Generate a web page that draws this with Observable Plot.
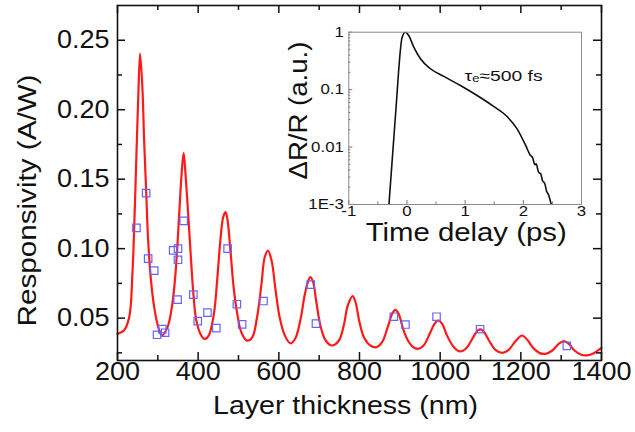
<!DOCTYPE html>
<html>
<head>
<meta charset="utf-8">
<script src="https://cdn.jsdelivr.net/npm/d3@7"></script>
<script src="https://cdn.jsdelivr.net/npm/@observablehq/plot@0.6"></script>
<style>
  html, body { margin: 0; padding: 0; background: #fff; }
  #wrap { position: relative; width: 635px; height: 432px; font-family: "Liberation Sans", Arial, sans-serif; }
</style>
</head>
<body>
<div id="wrap"></div>
<script>
// ---- Main chart: fitted responsivity curve (red line) ----
const curveThickness = [
  200, 216, 229, 237, 243, 248, 252, 256, 262, 266,
  271, 276, 283, 291, 299, 310, 324, 336, 345, 353,
  359, 364, 369, 375, 381, 388, 395, 405, 416, 426,
  439, 447, 455, 462, 468, 473, 480, 488, 497, 507,
  521, 534, 546, 557, 565, 573, 582, 592, 602, 615,
  629, 641, 654, 664, 672, 678, 685, 693, 703, 716,
  732, 749, 761, 771, 783, 790, 800, 811, 827, 842,
  856, 870, 881, 889, 897, 908, 920, 933, 945, 959,
  974, 986, 995, 1005, 1017, 1034, 1050, 1067, 1082, 1093,
  1100, 1108, 1121, 1137, 1154, 1170, 1187, 1203, 1216, 1231,
  1247, 1261, 1278, 1294, 1307, 1319, 1333, 1350, 1364, 1381,
  1400
];
const curveResponsivity = [
  0.0387, 0.0411, 0.0507, 0.0819, 0.1299, 0.178, 0.214, 0.2404, 0.214, 0.178,
  0.142, 0.106, 0.0771, 0.0579, 0.0459, 0.0375, 0.0435, 0.0603, 0.0867, 0.1251,
  0.154, 0.1688, 0.152, 0.126, 0.098, 0.068, 0.049, 0.039, 0.035, 0.0374,
  0.053, 0.077, 0.1058, 0.1226, 0.1263, 0.1203, 0.0986, 0.0722, 0.053, 0.0398,
  0.0338, 0.0362, 0.0506, 0.0746, 0.0938, 0.0986, 0.0914, 0.07, 0.0506, 0.0374,
  0.0318, 0.0355, 0.0495, 0.0664, 0.076, 0.0796, 0.076, 0.0616, 0.0447, 0.0339,
  0.0303, 0.0339, 0.0447, 0.0592, 0.0659, 0.0616, 0.0471, 0.0363, 0.0303, 0.0291,
  0.0327, 0.0435, 0.0531, 0.056, 0.0531, 0.0423, 0.0339, 0.0291, 0.0279, 0.0303,
  0.0387, 0.0459, 0.0483, 0.0459, 0.0375, 0.0291, 0.026, 0.0291, 0.0363, 0.0411,
  0.0419, 0.0404, 0.0339, 0.0272, 0.025, 0.0272, 0.0335, 0.0375, 0.0344, 0.0284,
  0.0248, 0.0243, 0.0267, 0.0315, 0.0335, 0.0315, 0.0267, 0.0236, 0.0232, 0.0248,
  0.0285
];

// ---- Main chart: measured points (blue squares) ----
const measThickness = [247, 271, 276, 291, 298, 311, 318, 338, 350, 350,
  349, 364, 388, 399, 423, 445, 473, 496, 509, 562,
  679, 692, 885, 914, 991, 1099, 1314];
const measResponsivity = [0.115, 0.140, 0.0928, 0.0842, 0.038, 0.0421, 0.0395, 0.0988, 0.100, 0.092,
  0.0633, 0.120, 0.0669, 0.0478, 0.054, 0.0428, 0.100, 0.060, 0.0455, 0.0623,
  0.0741, 0.046, 0.051, 0.0454, 0.051, 0.042, 0.030];

// ---- Main chart ticks ----
const xMajorTicks = [200, 400, 600, 800, 1000, 1200, 1400];
const xMinorTicks = [300, 500, 700, 900, 1100, 1300];
const yMajorTicks = [0.05, 0.10, 0.15, 0.20, 0.25];
const yMinorTicks = [0.025, 0.075, 0.125, 0.175, 0.225];
const yTickLabels = ["0.05", "0.10", "0.15", "0.20", "0.25"];

// ---- Inset: pump-probe transient ----
const insetTime = [-0.31, -0.2, -0.083, -0.026, 0.03, 0.117, 0.232, 0.404, 0.632, 0.919,
  1.206, 1.49, 1.72, 1.89, 2.04, 2.12, 2.16, 2.2, 2.22, 2.26,
  2.3, 2.33, 2.37, 2.4, 2.43, 2.45, 2.47, 2.5];
const insetSignal = [0.001, 0.033, 0.82, 1, 0.875, 0.55, 0.344, 0.231, 0.17, 0.118,
  0.079, 0.051, 0.034, 0.021, 0.0107, 0.0072, 0.0065, 0.0049, 0.0051, 0.0037,
  0.0034, 0.0026, 0.0023, 0.0017, 0.0015, 0.0013, 0.0011, 0.0009];
const insetXTicks = [-1, 0, 1, 2, 3];
const insetXMinor = [-0.5, 0.5, 1.5, 2.5];
const insetYTicks = [0.001, 0.01, 0.1, 1];
const insetYLabels = ["1E-3", "0.01", "0.1", "1"];
const insetYMinor = [0.002, 0.003, 0.004, 0.005, 0.006, 0.007, 0.008, 0.009,
  0.02, 0.03, 0.04, 0.05, 0.06, 0.07, 0.08, 0.09,
  0.2, 0.3, 0.4, 0.5, 0.6, 0.7, 0.8, 0.9];
const insetNote = [{t: 0.99, v: 0.17, text: "τₑ≈500 fs"}];

const FONT = "Liberation Sans, Arial, sans-serif";

const curveData = curveThickness.map((t, i) => ({t, r: curveResponsivity[i]}));
const measData = measThickness.map((t, i) => ({t, r: measResponsivity[i]}));
const insetData = insetTime.map((t, i) => ({t, v: insetSignal[i]}));

const W = 635, H = 432, ML = 117, MR = 34, MT = 5, MB = 72;
const innerW = W - ML - MR, innerH = H - MT - MB;

const main = Plot.plot({
  width: W, height: H,
  marginLeft: ML, marginRight: MR, marginTop: MT, marginBottom: MB,
  x: {domain: [200, 1400], axis: null},
  y: {domain: [0.0195, 0.275], axis: null},
  style: {fontFamily: FONT, background: "white", overflow: "visible"},
  marks: [
    Plot.line(curveData, {x: "t", y: "r", stroke: "#ff1a1a", strokeWidth: 2.2, curve: "catmull-rom"}),
    Plot.dot(measData, {x: "t", y: "r", symbol: "square", r: 4.2, stroke: "#6464ff", strokeWidth: 1.2, fill: "none"}),
    // inward ticks
    Plot.tickX(xMajorTicks, {x: d => d, insetTop: innerH - 8, stroke: "#111", strokeWidth: 1.5}),
    Plot.tickX(xMinorTicks, {x: d => d, insetTop: innerH - 5, stroke: "#111", strokeWidth: 1.5}),
    Plot.tickX(xMajorTicks, {x: d => d, insetBottom: innerH - 8, stroke: "#111", strokeWidth: 1.5}),
    Plot.tickX(xMinorTicks, {x: d => d, insetBottom: innerH - 5, stroke: "#111", strokeWidth: 1.5}),
    Plot.tickY(yMajorTicks, {y: d => d, insetRight: innerW - 8, stroke: "#111", strokeWidth: 1.5}),
    Plot.tickY(yMinorTicks, {y: d => d, insetRight: innerW - 5, stroke: "#111", strokeWidth: 1.5}),
    Plot.tickY(yMajorTicks, {y: d => d, insetLeft: innerW - 8, stroke: "#111", strokeWidth: 1.5}),
    Plot.tickY(yMinorTicks, {y: d => d, insetLeft: innerW - 5, stroke: "#111", strokeWidth: 1.5}),
    Plot.frame({stroke: "#111", strokeWidth: 1.6}),
    // tick labels
    Plot.text(xMajorTicks, {x: d => d, text: d => String(d), frameAnchor: "bottom", textAnchor: "middle", dy: 19, fontSize: 25, fill: "#111"}),
    Plot.text(yMajorTicks, {y: d => d, text: (d, i) => yTickLabels[i], frameAnchor: "left", textAnchor: "end", dx: -8, fontSize: 25, fill: "#111"}),
    // axis titles
    Plot.text(["Layer thickness (nm)"], {text: d => d, frameAnchor: "bottom", textAnchor: "middle", dx: -14, dy: 53.5, fontSize: 25.5, fill: "#111"}),
    Plot.text(["Responsivity (A/W)"], {text: d => d, frameAnchor: "left", textAnchor: "middle", rotate: -90, dx: -90, dy: 17.5, fontSize: 25.5, fill: "#111"})
  ]
});

// ---- Inset ----
const IL = 280, IT = 20, IW = 310, IH = 240;
const iML = 68.3, iMR = 9, iMT = 11.7, iMB = 56;
const iInnerW = IW - iML - iMR, iInnerH = IH - iMT - iMB;

const inset = Plot.plot({
  width: IW, height: IH,
  marginLeft: iML, marginRight: iMR, marginTop: iMT, marginBottom: iMB,
  x: {domain: [-1, 3], axis: null},
  y: {type: "log", domain: [0.001, 1], axis: null},
  style: {fontFamily: FONT, background: "transparent", overflow: "visible"},
  marks: [
    Plot.line(insetData, {x: "t", y: "v", stroke: "#111", strokeWidth: 1.6, curve: "monotone-x", clip: true}),
    Plot.tickX(insetXTicks, {x: d => d, insetTop: iInnerH - 4, stroke: "#777"}),
    Plot.tickX(insetXMinor, {x: d => d, insetTop: iInnerH - 2.5, stroke: "#777"}),
    Plot.tickY(insetYTicks, {y: d => d, insetRight: iInnerW - 4, stroke: "#777"}),
    Plot.tickY(insetYMinor, {y: d => d, insetRight: iInnerW - 2, stroke: "#777"}),
    Plot.frame({stroke: "#8a8a8a", strokeWidth: 1}),
    Plot.text(insetXTicks, {x: d => d, text: d => String(d), frameAnchor: "bottom", textAnchor: "middle", dy: 11, fontSize: 14, fill: "#111"}),
    Plot.text(insetYTicks, {y: d => d, text: (d, i) => insetYLabels[i], frameAnchor: "left", textAnchor: "end", dx: -5, fontSize: 14, fill: "#111"}),
    Plot.text(insetNote, {x: "t", y: "v", text: "text", textAnchor: "start", fontSize: 15, fill: "#111"}),
    Plot.text(["Time delay (ps)"], {text: d => d, frameAnchor: "bottom", textAnchor: "middle", dx: 1, dy: 36, fontSize: 25.5, fill: "#111"}),
    Plot.text(["ΔR/R (a.u.)"], {text: d => d, frameAnchor: "left", textAnchor: "middle", rotate: -90, dx: -50, dy: -7.8, fontSize: 25.5, fill: "#111"})
  ]
});

const wrap = document.getElementById("wrap");
main.style.position = "absolute";
main.style.left = "0px";
main.style.top = "0px";
inset.style.position = "absolute";
inset.style.left = IL + "px";
inset.style.top = IT + "px";
wrap.appendChild(main);
wrap.appendChild(inset);

// widen glyphs to match the original's wide lettering, keeping each text's anchor in place
function anchorPoint(b, anchor) {
  if (anchor === "middle") return b.x + b.width / 2;
  if (anchor === "end") return b.x + b.width;
  return b.x;
}
function stretch(svg, factor, targets) {
  svg.querySelectorAll("text").forEach(el => {
    const s = el.textContent;
    const len = el.getComputedTextLength();
    if (!len) return;
    const anchor = getComputedStyle(el).textAnchor;
    const a0 = anchorPoint(el.getBBox(), anchor);
    const target = targets[s] !== undefined ? targets[s] : len * factor;
    el.setAttribute("textLength", target);
    el.setAttribute("lengthAdjust", "spacingAndGlyphs");
    const a1 = anchorPoint(el.getBBox(), anchor);
    const shift = a0 - a1;
    if (Math.abs(shift) > 0.1) {
      const tr = el.getAttribute("transform") || "";
      el.setAttribute("transform", (tr + ` translate(${shift},0)`).trim());
    }
  });
}
stretch(main, 1.08, {"Layer thickness (nm)": 265, "Responsivity (A/W)": 252});
stretch(inset, 1.2, {"Time delay (ps)": 201, "ΔR/R (a.u.)": 138, "τₑ≈500 fs": 78});
</script>
</body>
</html>
